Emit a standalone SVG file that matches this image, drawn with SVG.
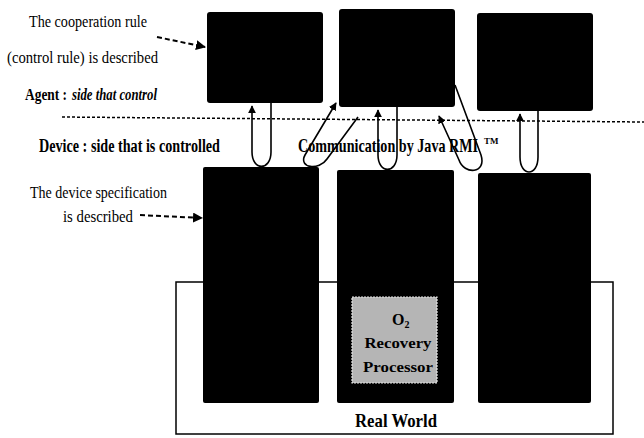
<svg xmlns="http://www.w3.org/2000/svg" width="644" height="438" viewBox="0 0 644 438">
<defs>
<style>
.box{fill:#000;}
.lbl{font-family:"Liberation Serif","Times New Roman",serif;fill:#000;}
.b{font-weight:bold;}
.con{fill:none;stroke:#000;stroke-width:1.6;}
.dash{fill:none;stroke:#000;stroke-width:2;stroke-dasharray:5,3;}
</style>
<marker id="ah" viewBox="0 0 10 10" refX="9" refY="5" markerWidth="5" markerHeight="5" orient="auto" markerUnits="strokeWidth">
<path d="M0,0 L10,5 L0,10 z" fill="#000"/>
</marker>
</defs>
<rect width="644" height="438" fill="#fff"/>

<g id="real-world">
<rect x="176" y="282" width="437" height="152" fill="none" stroke="#000" stroke-width="1.5"/>
<text class="lbl b" x="396" y="427" font-size="19" text-anchor="middle" textLength="82" lengthAdjust="spacingAndGlyphs">Real World</text>
</g>

<g id="agent1"><rect class="box" x="207" y="12" width="116" height="91" rx="3"/></g>
<g id="agent2"><rect class="box" x="339" y="9" width="116" height="98" rx="3"/></g>
<g id="agent3"><rect class="box" x="477" y="13" width="116" height="98" rx="3"/></g>

<g id="device1"><rect class="box" x="203" y="167" width="116" height="236" rx="2"/></g>
<g id="device2"><rect class="box" x="337" y="170" width="117" height="233" rx="2"/>
<g id="o2-processor">
<rect x="352" y="297" width="85" height="86" fill="#b5b5b5" stroke="#e6e6e6" stroke-width="1.2" stroke-dasharray="2,1"/>
<text class="lbl b" x="392" y="325" font-size="16">O<tspan font-size="10" dy="3">2</tspan></text>
<text class="lbl b" x="398" y="348" font-size="15" text-anchor="middle" textLength="67" lengthAdjust="spacingAndGlyphs">Recovery</text>
<text class="lbl b" x="398" y="372" font-size="15" text-anchor="middle" textLength="70" lengthAdjust="spacingAndGlyphs">Processor</text>
</g>
</g>
<g id="device3"><rect class="box" x="478" y="173" width="113" height="230" rx="2"/></g>

<g id="divider">
<line x1="62" y1="117" x2="644" y2="122" stroke="#000" stroke-width="1.5" stroke-dasharray="3,2"/>
</g>

<g id="labels">
<text class="lbl" x="29" y="27" font-size="17" textLength="118" lengthAdjust="spacingAndGlyphs">The cooperation rule</text>
<text class="lbl" x="7" y="63" font-size="17" textLength="151" lengthAdjust="spacingAndGlyphs">(control rule) is described</text>
<text class="lbl b" transform="translate(25,100) scale(0.79,1)" font-size="17">Agent :</text>
<text class="lbl b" transform="translate(72,100) scale(0.75,1)" font-size="17" font-style="italic">side that control</text>
<text class="lbl b" x="39" y="152" font-size="18" textLength="181" lengthAdjust="spacingAndGlyphs">Device : side that is controlled</text>
<text class="lbl" x="30" y="198" font-size="17" textLength="137" lengthAdjust="spacingAndGlyphs">The device specification</text>
<text class="lbl" x="63" y="222" font-size="17" textLength="70" lengthAdjust="spacingAndGlyphs">is described</text>
<text class="lbl b" transform="translate(298,152) scale(0.785,1)" font-size="18">Communication by Java RMI</text>
<text class="lbl b" x="484" y="144" font-size="9">TM</text>
</g>

<g id="connectors">
<path class="dash" d="M157,37 L205,47" marker-end="url(#ah)"/>
<path class="dash" d="M140,215 L202,218" marker-end="url(#ah)"/>
<path class="con" d="M271,103 L271,152 C271,171 252,171 252,152 L252,106" marker-end="url(#ah)"/>
<path class="con" d="M358,117 L327,159 C319,171 298,168 305,155 L336,103" marker-end="url(#ah)"/>
<path class="con" d="M397,107 L397,155 C397,174 378,174 378,155 L378,110" marker-end="url(#ah)"/>
<path class="con" d="M455,85 L481,155 C487,174 464,175 459,160 L439,116" marker-end="url(#ah)"/>
<path class="con" d="M538,111 L538,157 C538,177 520,177 520,157 L520,114" marker-end="url(#ah)"/>
</g>
</svg>
